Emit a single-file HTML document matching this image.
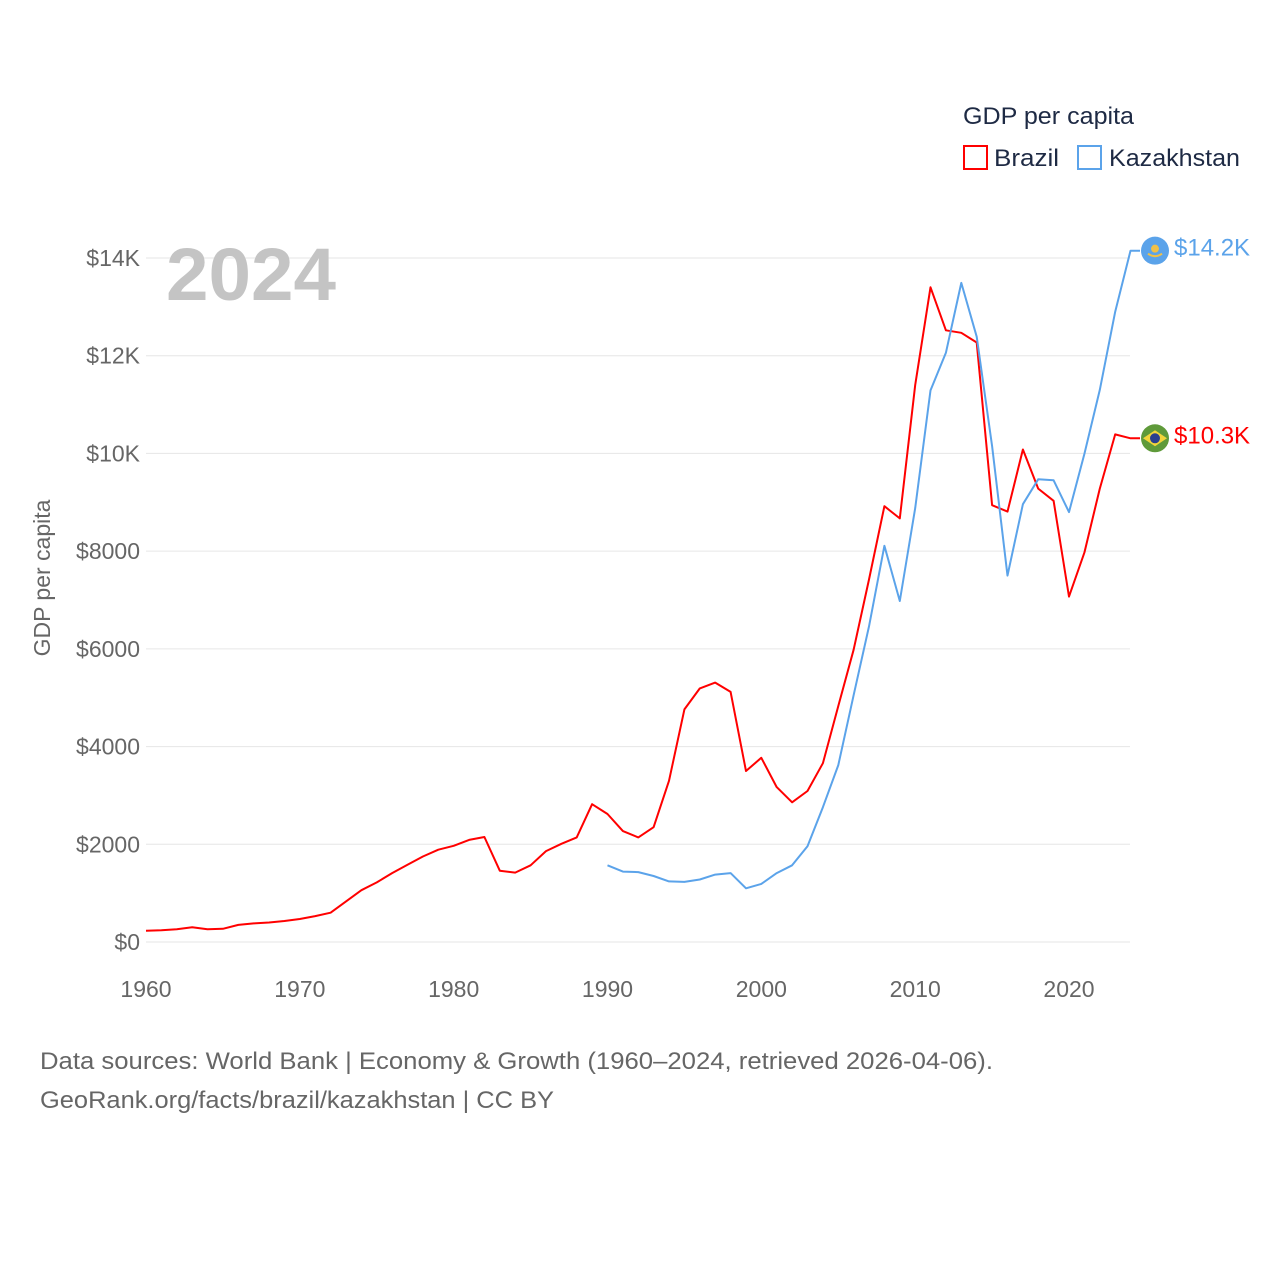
<!DOCTYPE html>
<html><head><meta charset="utf-8"><style>
body{margin:0;background:#fff;font-family:"Liberation Sans",sans-serif}
svg text{font-family:"Liberation Sans",sans-serif}
</style></head><body>
<svg width="1280" height="1280" xmlns="http://www.w3.org/2000/svg">
<g id="grid"></g>
<g id="yticks"></g>
<g id="xticks"></g>
<text x="166" y="300" font-size="74" font-weight="bold" fill="#c4c4c4" textLength="170" lengthAdjust="spacingAndGlyphs">2024</text>
<text transform="translate(50,578) rotate(-90)" text-anchor="middle" font-size="23" fill="#666">GDP per capita</text>
<g id="series"></g>
<text x="963" y="124" font-size="24" fill="#1e2a44" textLength="171" lengthAdjust="spacingAndGlyphs">GDP per capita</text>
<g><rect x="964" y="146" width="23" height="23" fill="none" stroke="#ff0000" stroke-width="2"/><text x="994" y="166" font-size="24" fill="#1e2a44" textLength="65" lengthAdjust="spacingAndGlyphs">Brazil</text></g>
<g><rect x="1078" y="146" width="23" height="23" fill="none" stroke="#5ba3ea" stroke-width="2"/><text x="1109" y="166" font-size="24" fill="#1e2a44" textLength="131" lengthAdjust="spacingAndGlyphs">Kazakhstan</text></g>
<text x="40" y="1069" font-size="24" fill="#666" textLength="953" lengthAdjust="spacingAndGlyphs">Data sources: World Bank | Economy &amp; Growth (1960–2024, retrieved 2026-04-06).</text>
<text x="40" y="1108" font-size="24" fill="#666" textLength="514" lengthAdjust="spacingAndGlyphs">GeoRank.org/facts/brazil/kazakhstan | CC BY</text>
</svg>
<script>
const years=[];for(let y=1960;y<=2024;y++)years.push(y);
const brazil=[0.23,0.24,0.26,0.3,0.26,0.27,0.35,0.38,0.4,0.43,0.47,0.53,0.6,0.83,1.06,1.22,1.41,1.58,1.75,1.89,1.97,2.09,2.15,1.46,1.42,1.57,1.86,2.01,2.14,2.82,2.62,2.27,2.14,2.35,3.3,4.76,5.19,5.31,5.12,3.5,3.77,3.17,2.86,3.09,3.66,4.83,5.98,7.42,8.92,8.67,11.4,13.4,12.52,12.47,12.27,8.94,8.81,10.08,9.28,9.03,7.07,7.97,9.28,10.39,10.31];
const kazYears=[];for(let y=1990;y<=2024;y++)kazYears.push(y);
const kazakhstan=[1.57,1.44,1.43,1.35,1.24,1.23,1.28,1.38,1.41,1.1,1.19,1.41,1.57,1.96,2.76,3.62,5.05,6.46,8.11,6.98,8.88,11.29,12.06,13.49,12.39,10.15,7.5,8.96,9.47,9.45,8.8,9.99,11.3,12.9,14.15];
const yTicks=[0,2,4,6,8,10,12,14];
const yTickLabels=["$0","$2000","$4000","$6000","$8000","$10K","$12K","$14K"];
const xTicks=[1960,1970,1980,1990,2000,2010,2020];
const endLabels=["$10.3K","$14.2K"];
const NS="http://www.w3.org/2000/svg";
const X=y=>146+(y-1960)*(1069-146)/60;
const Y=v=>942-v*(942-258)/14;
function el(t,a,p){const e=document.createElementNS(NS,t);for(const k in a)e.setAttribute(k,a[k]);p.appendChild(e);return e;}
const grid=document.getElementById('grid'),yt=document.getElementById('yticks'),xt=document.getElementById('xticks'),ser=document.getElementById('series');
yTicks.forEach((v,i)=>{
 const l=el('line',{x1:146,x2:1130,y1:Y(v),y2:Y(v),stroke:'#e6e6e6','stroke-width':1},grid);
 
 
 const t=el('text',{x:140,y:Y(v)+8,'text-anchor':'end','font-size':23,fill:'#666'},yt);t.textContent=yTickLabels[i];
 
 
});
xTicks.forEach(v=>{
 const t=el('text',{x:X(v),y:997,'text-anchor':'middle','font-size':23,fill:'#666'},xt);t.textContent=v;
 
 
});
function line(xs,vs,c,mc,name,label,inner){
 let d=xs.map((y,i)=>(i?'L':'M')+X(y).toFixed(1)+','+Y(vs[i]).toFixed(1)).join('');
 const last=vs[vs.length-1];
 d+='L1140,'+Y(last).toFixed(1);
 const p=el('path',{d:d,fill:'none',stroke:c,'stroke-width':2,'stroke-linejoin':'round'},ser);
 
 
 const cy=Y(last);
 const ci=el('circle',{cx:1155,cy:cy,r:14,fill:mc},ser);
 
 
 inner(cy);
 const t=el('text',{x:1174,y:cy+5,'font-size':24,fill:c},ser);t.textContent=label;
 
 
}
line(years,brazil,'#ff0000','#5f9a3a','brazil',endLabels[0],cy=>{
 el('polygon',{points:`1143,${cy} 1155,${cy-8} 1167,${cy} 1155,${cy+8}`,fill:'#f2d43a'},ser);
 el('circle',{cx:1155,cy:cy,r:5,fill:'#2a3f8f'},ser);
});
line(kazYears,kazakhstan,'#5ba3ea','#5ba3ea','kazakhstan',endLabels[1],cy=>{
 el('circle',{cx:1155,cy:cy-2,r:4,fill:'#f0c048'},ser);
 el('path',{d:`M1148,${cy+3} Q1155,${cy+8} 1162,${cy+3}`,fill:'none',stroke:'#f0c048','stroke-width':2},ser);
});
</script>
</body></html>
